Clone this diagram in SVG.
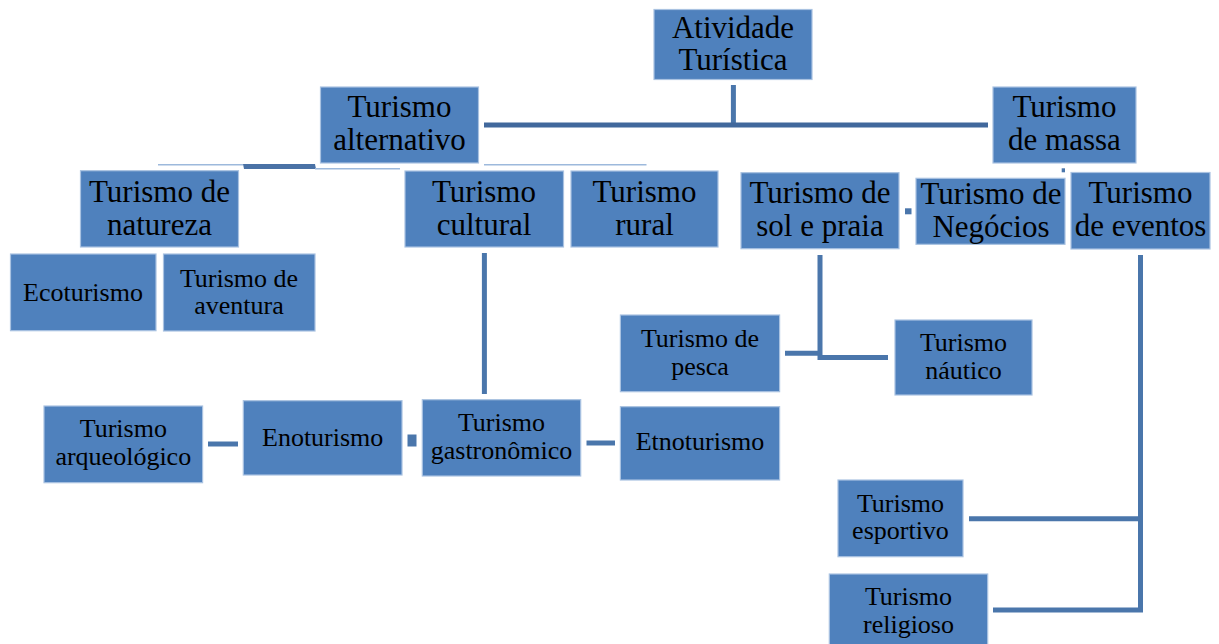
<svg xmlns="http://www.w3.org/2000/svg" width="1219" height="644" viewBox="0 0 1219 644">
<style>
.box{fill:#4F81BD;stroke:#a9c2e1;stroke-width:1.2}
.lg{font-family:"Liberation Serif","Times New Roman",serif;font-size:31px;fill:#000;text-anchor:middle}
.sm{font-family:"Liberation Serif","Times New Roman",serif;font-size:26px;fill:#000;text-anchor:middle}
.ln{stroke:#4a76ab;stroke-width:5;fill:none}
.dk{stroke:#41689c;stroke-width:5;fill:none}
.lt{stroke:#9db9dc;stroke-width:1.5;fill:none}
</style>
<rect width="1219" height="644" fill="#fff"/>
<g id="connectors">
  <line class="ln" x1="733.4" y1="85" x2="733.4" y2="125"/>
  <line class="dk" x1="484" y1="125" x2="988" y2="125"/>
  <line class="lt" x1="158" y1="164.7" x2="243" y2="164.7"/>
  <polygon points="243,164 315,164 316,169 244,169" fill="#4a72a6"/>
  <line class="lt" x1="315" y1="168.8" x2="400" y2="168.8"/>
  <line class="lt" x1="484" y1="164.7" x2="646.5" y2="164.7"/>
  <rect x="1061.7" y="168.3" width="3.3" height="4" fill="#4a76ab"/>
  <rect x="905" y="208.3" width="6.5" height="6" fill="#4a76ab"/>
  <line class="ln" x1="484.4" y1="253" x2="484.4" y2="394"/>
  <polyline class="ln" points="820,255 820,357.5 888,357.5"/>
  <line class="ln" x1="785" y1="353.3" x2="820" y2="353.3"/>
  <polyline class="ln" points="1140.5,255 1140.5,610 993,610"/>
  <line class="ln" x1="969" y1="518.7" x2="1140.5" y2="518.7"/>
  <line class="ln" x1="208" y1="444" x2="238" y2="444"/>
  <rect x="407.5" y="434.5" width="9" height="12" fill="#4a76ab"/>
  <line class="ln" x1="586.5" y1="443" x2="615" y2="443"/>
</g>
<g id="atividade"><rect class="box" x="654" y="9.5" width="158" height="70"/><text class="lg" x="733" y="37.7">Atividade</text><text class="lg" x="733" y="70">Turística</text></g>
<g id="alternativo"><rect class="box" x="320.5" y="87" width="158" height="76"/><text class="lg" x="399.5" y="117">Turismo</text><text class="lg" x="399.5" y="150">alternativo</text></g>
<g id="massa"><rect class="box" x="993" y="87" width="143" height="76"/><text class="lg" x="1064.5" y="117.3">Turismo</text><text class="lg" x="1064.5" y="150">de massa</text></g>
<g id="natureza"><rect class="box" x="80.5" y="170.7" width="158" height="76.3"/><text class="lg" x="159.5" y="201.7">Turismo de</text><text class="lg" x="159.5" y="235">natureza</text></g>
<g id="cultural"><rect class="box" x="405" y="171" width="158.5" height="76"/><text class="lg" x="484" y="202">Turismo</text><text class="lg" x="484" y="235">cultural</text></g>
<g id="rural"><rect class="box" x="571" y="171" width="147" height="76"/><text class="lg" x="644.5" y="202">Turismo</text><text class="lg" x="644.5" y="235">rural</text></g>
<g id="solpraia"><rect class="box" x="741" y="172.7" width="158" height="76"/><text class="lg" x="820" y="203.3">Turismo de</text><text class="lg" x="820" y="236">sol e praia</text></g>
<g id="negocios"><rect class="box" x="916" y="178.3" width="149" height="66"/><text class="lg" x="991" y="204">Turismo de</text><text class="lg" x="991" y="237">Negócios</text></g>
<g id="eventos"><rect class="box" x="1071" y="172.5" width="139" height="76.5"/><text class="lg" x="1140.5" y="203.3">Turismo</text><text class="lg" x="1140.5" y="236">de eventos</text></g>
<g id="ecoturismo"><rect class="box" x="10.5" y="254" width="145.5" height="76.7"/><text class="sm" x="83" y="301">Ecoturismo</text></g>
<g id="aventura"><rect class="box" x="163.5" y="254" width="151.5" height="77"/><text class="sm" x="239" y="286.5">Turismo de</text><text class="sm" x="239" y="314">aventura</text></g>
<g id="pesca"><rect class="box" x="620.4" y="315" width="159.2" height="76.7"/><text class="sm" x="700" y="347.3">Turismo de</text><text class="sm" x="700" y="374.5">pesca</text></g>
<g id="nautico"><rect class="box" x="895" y="320" width="137" height="75"/><text class="sm" x="963.5" y="351">Turismo</text><text class="sm" x="963.5" y="378.7">náutico</text></g>
<g id="arqueologico"><rect class="box" x="44" y="406" width="158.6" height="76.7"/><text class="sm" x="123.3" y="437.3">Turismo</text><text class="sm" x="123.3" y="465">arqueológico</text></g>
<g id="enoturismo"><rect class="box" x="243.3" y="400.7" width="158.7" height="74.3"/><text class="sm" x="322.7" y="445.7">Enoturismo</text></g>
<g id="gastronomico"><rect class="box" x="422.3" y="399.7" width="158.4" height="76.3"/><text class="sm" x="501.5" y="431">Turismo</text><text class="sm" x="501.5" y="459">gastronômico</text></g>
<g id="etnoturismo"><rect class="box" x="620.4" y="406.7" width="159.2" height="73.3"/><text class="sm" x="700" y="450">Etnoturismo</text></g>
<g id="esportivo"><rect class="box" x="838" y="480" width="125" height="76.7"/><text class="sm" x="900.5" y="512.3">Turismo</text><text class="sm" x="900.5" y="539.3">esportivo</text></g>
<g id="religioso"><rect class="box" x="829.3" y="574" width="158.4" height="75"/><text class="sm" x="908.5" y="605">Turismo</text><text class="sm" x="908.5" y="632.7">religioso</text></g>
</svg>
